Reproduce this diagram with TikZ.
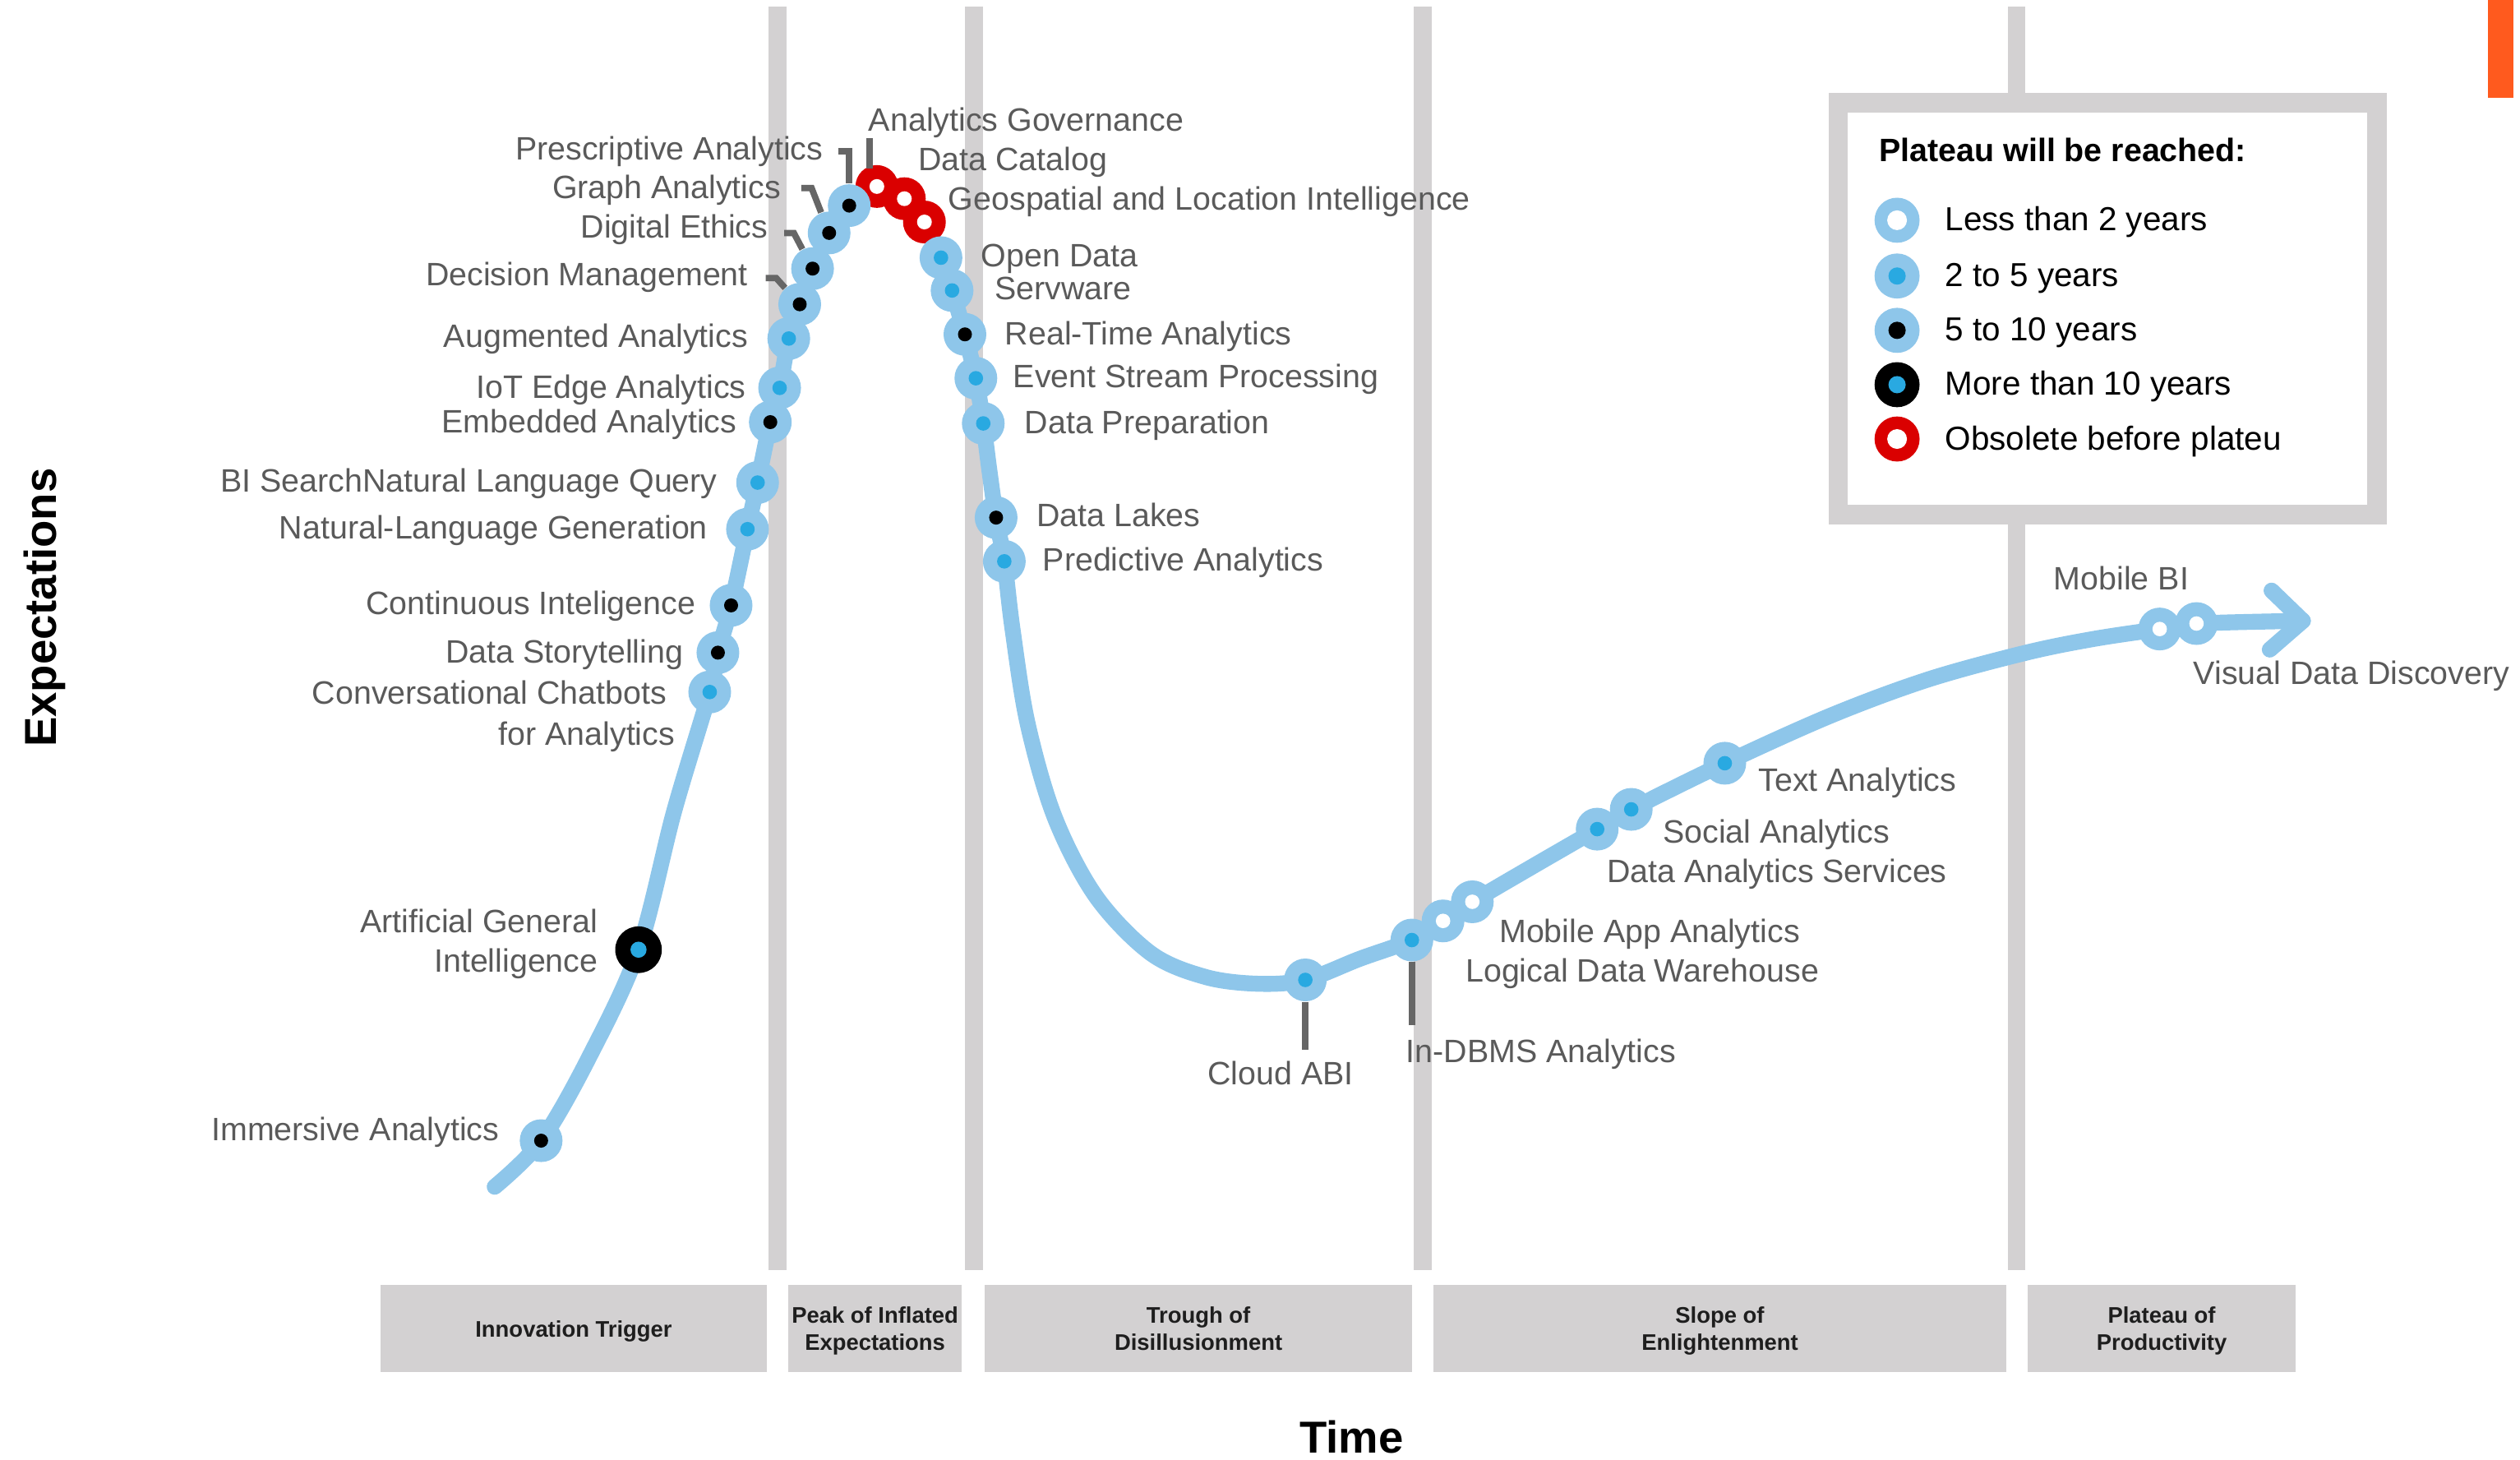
\documentclass[tikz,border=0pt]{standalone}
\usepackage{fontspec}
\setmainfont{Liberation Sans}
\usetikzlibrary{calc}
\definecolor{cblue}{HTML}{8EC6EA}
\definecolor{dblue}{HTML}{29A9E1}
\definecolor{obred}{HTML}{DA0000}
\definecolor{barg}{HTML}{D3D1D2}
\definecolor{lblg}{HTML}{5A5A5A}
\definecolor{leadg}{HTML}{666666}
\definecolor{orng}{HTML}{FF5A1E}
\definecolor{boxtxt}{HTML}{1E1E1E}
\begin{document}
\begin{tikzpicture}[x=0.019554cm, y=-0.019554cm,
  vbar/.style={draw=barg, line width=6.1pt},
  curve/.style={draw=cblue, line width=5.5pt, line cap=round, line join=round},
  mk/.style n args={3}{circle, inner sep=0pt, minimum size=0.52cm, fill=#1,
    path picture={\fill[#2] (path picture bounding box.center) circle[radius=#3];}},
  mkw/.style={mk={cblue}{white}{0.088cm}},
  mkb/.style={mk={cblue}{dblue}{0.088cm}},
  mkk/.style={mk={cblue}{black}{0.085cm}},
  mkr/.style={mk={obred}{white}{0.09cm}},
  mkagi/.style={mk={black}{dblue}{0.098cm}, minimum size=0.567cm},
  lgm/.style n args={3}{circle, inner sep=0pt, minimum size=0.548cm, fill=#1,
    path picture={\fill[#2] (path picture bounding box.center) circle[radius=#3];}},
  lbl/.style={font=\fontsize{11.2}{13}\selectfont, text=lblg, inner sep=0pt, text height=7.2pt, text depth=0pt},
  lbll/.style={lbl, anchor=east},
  lblr/.style={lbl, anchor=west},
  leader/.style={draw=leadg, line width=2.2pt},
  phase/.style={fill=barg, inner sep=0pt, minimum height=1.06cm, align=center,
    font=\bfseries\fontsize{7.8}{9.4}\selectfont, text=boxtxt, text height=5.6pt, text depth=0pt},
  phasetwo/.style={phase, text height=15pt, text depth=0pt},
  lgtxt/.style={font=\fontsize{11.5}{13}\selectfont, text=black, inner sep=0pt, text height=7.4pt, text depth=0pt, anchor=west},
  axis/.style={font=\bfseries\fontsize{15.5}{18}\selectfont, text=black, inner sep=0pt}
]
\useasboundingbox (0,0) rectangle (1568,908);

% orange mark
\fill[orng] (1548,0) rectangle (1564,61);

% vertical phase bars
\coordinate (b1t) at (483.9,4); \coordinate (b1b) at (483.9,790);
\coordinate (b2t) at (606.1,4); \coordinate (b2b) at (606.1,790);
\coordinate (b3t) at (885.3,4); \coordinate (b3b) at (885.3,790);
\coordinate (b4t) at (1254.7,4); \coordinate (b4b) at (1254.7,790);
\draw[vbar] (b1t) -- (b1b);
\draw[vbar] (b2t) -- (b2b);
\draw[vbar] (b3t) -- (b3b);
\draw[vbar] (b4t) -- (b4b);

% phase boxes
\node[phase, minimum width=4.699cm] (ph1) at (356.95,826.6) {Innovation Trigger};
\node[phasetwo, minimum width=2.114cm] (ph2) at (544.45,826.6) {Peak of Inflated\\Expectations};
\node[phasetwo, minimum width=5.205cm] (ph3) at (745.7,826.6) {Trough of\\Disillusionment};
\node[phasetwo, minimum width=6.967cm] (ph4) at (1070.15,826.6) {Slope of\\Enlightenment};
\node[phasetwo, minimum width=3.260cm] (ph5) at (1345.05,826.6) {Plateau of\\Productivity};

% axis titles
\node[axis] (time) at (841,894) {Time};
\node[axis, rotate=90] (expect) at (28,378) {Expectations};

% legend
\node[draw=barg, line width=6.65pt, fill=white, minimum width=6.551cm, minimum height=5.006cm, inner sep=0pt] (legend) at (1311.5,192) {};
\node[font=\bfseries\fontsize{11.2}{13}\selectfont, inner sep=0pt, text height=7.4pt, text depth=0pt, anchor=west] (lgtitle) at (1169,94) {Plateau will be reached:};
\node[lgm={cblue}{white}{0.12cm}] (lg1) at (1180.4,137) {};
\node[lgm={cblue}{dblue}{0.105cm}] (lg2) at (1180.4,171.7) {};
\node[lgm={cblue}{black}{0.105cm}] (lg3) at (1180.4,205.5) {};
\node[lgm={black}{dblue}{0.105cm}] (lg4) at (1180.4,239.3) {};
\node[lgm={obred}{white}{0.12cm}] (lg5) at (1180.4,273.1) {};
\node[lgtxt] (lt1) at (1210,137) {Less than 2 years};
\node[lgtxt] (lt2) at (1210,171.7) {2 to 5 years};
\node[lgtxt] (lt3) at (1210,205.5) {5 to 10 years};
\node[lgtxt] (lt4) at (1210,239.3) {More than 10 years};
\node[lgtxt] (lt5) at (1210,273.1) {Obsolete before plateu};

% curve points
\coordinate (s0) at (307.8,738.3);
\coordinate (imm) at (336.7,709.6);
\coordinate (c1) at (366.6,657.6);
\coordinate (agi) at (397.3,590.8);
\coordinate (c2) at (419.4,504.9);
\coordinate (chat) at (441.6,430.5);
\coordinate (story) at (446.7,406);
\coordinate (cont) at (454.9,376.6);
\coordinate (nlg) at (465.1,329.2);
\coordinate (bis) at (471.4,300.2);
\coordinate (emb) at (479.3,262.6);
\coordinate (iot) at (485.1,241.3);
\coordinate (aug) at (490.8,210.6);
\coordinate (dec) at (497.6,189.3);
\coordinate (dig) at (505.6,167.1);
\coordinate (gra) at (515.9,144.9);
\coordinate (pre) at (528.4,127.9);
\coordinate (agov) at (545.6,116);
\coordinate (dcat) at (562.7,123.6);
\coordinate (geo) at (575.2,138.1);
\coordinate (open) at (585.5,160.3);
\coordinate (serv) at (592.4,180.7);
\coordinate (rt) at (600.4,208);
\coordinate (esp) at (607.2,235.3);
\coordinate (dprep) at (611.8,263.4);
\coordinate (c3) at (615.6,292.5);
\coordinate (lakes) at (619.8,322);
\coordinate (pred) at (624.9,349.2);
\coordinate (c4) at (630,391.3);
\coordinate (c5) at (639.4,450.1);
\coordinate (c6) at (656.4,508.8);
\coordinate (c7) at (682,557.8);
\coordinate (c8) at (716.1,593.1);
\coordinate (c9) at (750.2,607.8);
\coordinate (c10) at (783,612);
\coordinate (cloud) at (812.2,609.6);
\coordinate (c11) at (846,596.5);
\coordinate (indbms) at (878.5,584.8);
\coordinate (ldw) at (897.9,572.9);
\coordinate (maa) at (916.1,561);
\coordinate (c12) at (955,538.2);
\coordinate (das) at (993.8,515.8);
\coordinate (soc) at (1015,503.5);
\coordinate (txt) at (1073.2,474.8);
\coordinate (c13) at (1140,444.8);
\coordinate (c14) at (1200,422.6);
\coordinate (c15) at (1260,406.2);
\coordinate (c16) at (1302,397.6);
\coordinate (mbi) at (1343.8,391.3);
\coordinate (vdd) at (1366.7,387.9);
\coordinate (tip) at (1432.9,386.2);
\coordinate (w1) at (1413.4,367.4);
\coordinate (w2) at (1412.3,404.1);

\draw[curve] plot[smooth, tension=0.55] coordinates {(s0) (imm) (c1) (agi) (c2) (chat) (story) (cont) (nlg) (bis) (emb) (iot) (aug) (dec) (dig) (gra) (pre) (agov) (dcat) (geo) (open) (serv) (rt) (esp) (dprep) (c3) (lakes) (pred) (c4) (c5) (c6) (c7) (c8) (c9) (c10) (cloud) (c11) (indbms) (ldw) (maa) (c12) (das) (soc) (txt) (c13) (c14) (c15) (c16) (mbi) (vdd) (tip)};
\draw[curve] (w1) -- (tip) -- (w2);

% markers
\node[mkk] (immmk) at (imm) {};
\node[mkagi] (agimk) at (agi) {};
\node[mkb] (chatmk) at (chat) {};
\node[mkk] (storymk) at (story) {};
\node[mkk] (contmk) at (cont) {};
\node[mkb] (nlgmk) at (nlg) {};
\node[mkb] (bismk) at (bis) {};
\node[mkk] (embmk) at (emb) {};
\node[mkb] (iotmk) at (iot) {};
\node[mkb] (augmk) at (aug) {};
\node[mkk] (decmk) at (dec) {};
\node[mkk] (digmk) at (dig) {};
\node[mkk] (gramk) at (gra) {};
\node[mkr] (geomk) at (geo) {};
\node[mkr] (dcatmk) at (dcat) {};
\node[mkr] (agovmk) at (agov) {};
\node[mkk] (premk) at (pre) {};
\node[mkb] (openmk) at (open) {};
\node[mkb] (servmk) at (serv) {};
\node[mkk] (rtmk) at (rt) {};
\node[mkb] (espmk) at (esp) {};
\node[mkb] (dprepmk) at (dprep) {};
\node[mkk] (lakesmk) at (lakes) {};
\node[mkb] (predmk) at (pred) {};
\node[mkb] (cloudmk) at (cloud) {};
\node[mkb] (indbmsmk) at (indbms) {};
\node[mkw] (ldwmk) at (ldw) {};
\node[mkw] (maamk) at (maa) {};
\node[mkb] (dasmk) at (das) {};
\node[mkb] (socmk) at (soc) {};
\node[mkb] (txtmk) at (txt) {};
\node[mkw] (mbimk) at (mbi) {};
\node[mkw] (vddmk) at (vdd) {};

% leaders
\coordinate (preL) at (521.5,94); \coordinate (preC) at (528.4,94);
\draw[leader] (preL) -- (preC) -- (premk);
\coordinate (agL) at (541,86); \coordinate (agE) at (541,105);
\draw[leader] (agL) -- (agE);
\coordinate (graL) at (498.5,117); \coordinate (graC) at (505,117);
\draw[leader] (graL) -- (graC) -- (gramk);
\coordinate (digL) at (488,145); \coordinate (digC) at (494,145);
\draw[leader] (digL) -- (digC) -- (digmk);
\coordinate (decL) at (476.5,173); \coordinate (decC) at (483,173);
\draw[leader] (decL) -- (decC) -- (decmk);
\coordinate (cloudE) at (812.2,653);
\draw[leader] (cloudmk) -- (cloudE);
\coordinate (indbmsE) at (878.5,637.7);
\draw[leader] (indbmsmk) -- (indbmsE);

% left labels
\node[lbll] (l1) at (512.5,92.9) {Prescriptive Analytics};
\node[lbll] (l2) at (486.2,116.8) {Graph Analytics};
\node[lbll] (l3) at (478.2,141.5) {Digital Ethics};
\node[lbll] (l4) at (465.7,171.4) {Decision Management};
\node[lbll] (l5) at (465.7,209.7) {Augmented Analytics};
\node[lbll] (l6) at (464.5,241.3) {IoT Edge Analytics};
\node[lbll] (l7) at (458.8,262.6) {Embedded Analytics};
\node[lbll] (l8) at (446.7,299.8) {BI SearchNatural Language Query};
\node[lbll] (l9) at (440.7,328.9) {Natural-Language Generation};
\node[lbll] (l10) at (433.1,376) {Continuous Inteligence};
\node[lbll] (l11) at (425.4,406) {Data Storytelling};
\node[lbll] (l12) at (415.2,431.6) {Conversational Chatbots};
\node[lbll] (l13) at (420.3,457) {for Analytics};
\node[lbll] (l14) at (372.4,573.9) {Artificial General};
\node[lbll] (l15) at (372.4,598.2) {Intelligence};
\node[lbll] (l16) at (311,703) {Immersive Analytics};
\node[lbll] (l17) at (842.5,668.5) {Cloud ABI};

% right labels
\node[lblr] (r1) at (540.2,75.1) {Analytics Governance};
\node[lblr] (r2) at (571,99.6) {Data Catalog};
\node[lblr] (r3) at (589.8,124.1) {Geospatial and Location Intelligence};
\node[lblr] (r4) at (610.2,159.4) {Open Data};
\node[lblr] (r5) at (618.5,180) {Servware};
\node[lblr] (r6) at (625,208) {Real-Time Analytics};
\node[lblr] (r7) at (630.2,234.8) {Event Stream Processing};
\node[lblr] (r8) at (637.3,263.2) {Data Preparation};
\node[lblr] (r9) at (644.6,321) {Data Lakes};
\node[lblr] (r10) at (648.5,348.5) {Predictive Analytics};
\node[lblr] (r11) at (874.6,654.7) {In-DBMS Analytics};
\node[lblr] (r12) at (932.6,579.7) {Mobile App Analytics};
\node[lblr] (r13) at (911.6,604.4) {Logical Data Warehouse};
\node[lblr] (r14) at (999.5,542.5) {Data Analytics Services};
\node[lblr] (r15) at (1034.4,518) {Social Analytics};
\node[lblr] (r16) at (1093.8,486) {Text Analytics};
\node[lblr] (r17) at (1277.6,360.6) {Mobile BI};
\node[lblr] (r18) at (1364.5,419.4) {Visual Data Discovery};
\end{tikzpicture}
\end{document}
